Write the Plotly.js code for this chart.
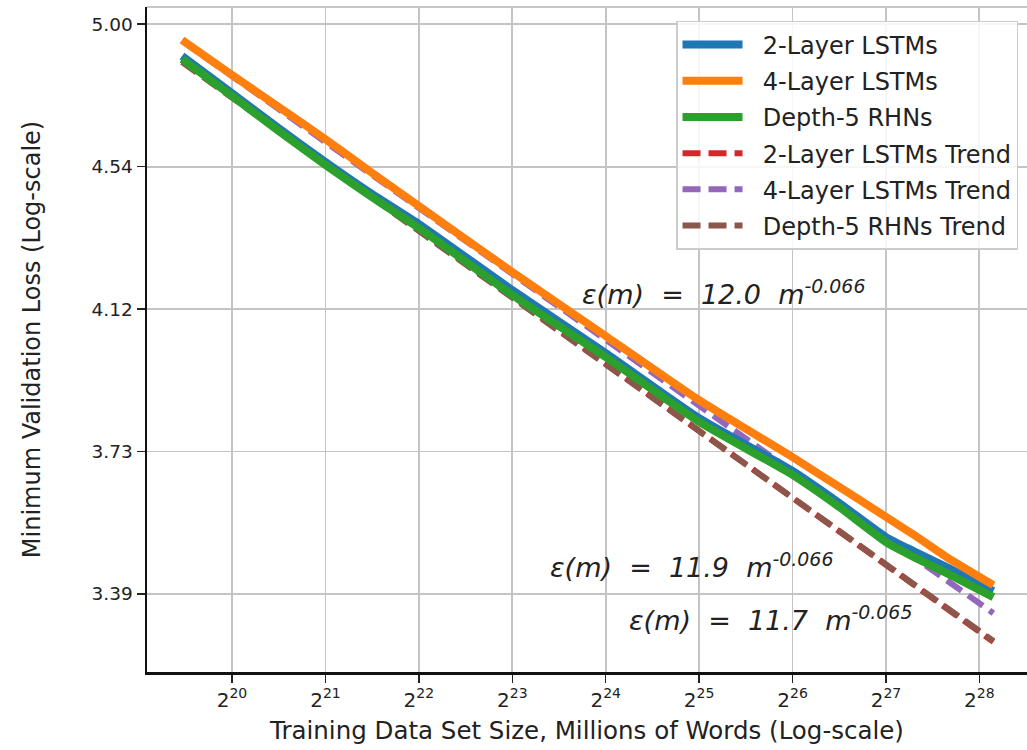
<!DOCTYPE html>
<html>
<head>
<meta charset="utf-8">
<script src="https://cdn.plot.ly/plotly-3.0.1.min.js"></script>
<style>html,body{margin:0;padding:0;background:#fff;}#chart{width:1027px;height:750px;}</style>
</head>
<body>
<div id="chart"></div>
<script>
// Training data set size (words)
const xData = [723680, 1048576, 1482910, 2097152, 2965821, 4194304, 8388608, 16777216,
               33554432, 67108864, 94906266, 134217728, 165237000, 210617000, 297856000];
// Minimum validation loss
const lstm2 = [4.895, 4.772, 4.659, 4.552, 4.453, 4.363, 4.170, 3.994, 3.820, 3.684, 3.604, 3.521, 3.487, 3.449, 3.393];
const lstm4 = [4.949, 4.832, 4.727, 4.624, 4.518, 4.417, 4.222, 4.041, 3.867, 3.719, 3.644, 3.570, 3.526, 3.473, 3.407];
const rhn5  = [4.885, 4.763, 4.650, 4.543, 4.444, 4.351, 4.156, 3.983, 3.810, 3.674, 3.594, 3.509, 3.473, 3.435, 3.379];
// Trend lines (start and end values)
const trendX = [723680, 297856000];
const lstm2Trend = [4.882, 3.277];
const lstm4Trend = [4.946, 3.342];
const rhn5Trend  = [4.875, 3.279];

const xTickVals = [1048576, 2097152, 4194304, 8388608, 16777216, 33554432, 67108864, 134217728, 268435456];
const xTickText = ['2<sup>20</sup>','2<sup>21</sup>','2<sup>22</sup>','2<sup>23</sup>','2<sup>24</sup>','2<sup>25</sup>','2<sup>26</sup>','2<sup>27</sup>','2<sup>28</sup>'];
const yTickVals = [3.3864, 3.7334, 4.1160, 4.5379, 5.0035];
const yTickText = ['3.39','3.73','4.12','4.54','5.00'];

const seriesNames = ['2-Layer LSTMs','4-Layer LSTMs','Depth-5 RHNs','2-Layer LSTMs Trend','4-Layer LSTMs Trend','Depth-5 RHNs Trend'];
const NB = '\u00a0';
const fits = [
  '<i>ε(m)' + NB + ' =' + NB + NB + '12.0' + NB + ' m<sup>-0.066</sup></i>',
  '<i>ε(m)' + NB + ' =' + NB + NB + '11.9' + NB + ' m<sup>-0.066</sup></i>',
  '<i>ε(m)' + NB + ' =' + NB + NB + '11.7' + NB + ' m<sup>-0.065</sup></i>'
];

const FONT = 'DejaVu Sans, sans-serif';
const dash = {width: 6, dash: '18px,8px'};
const solid = {width: 8, shape: 'spline', smoothing: 0.5};
const lbl = s => NB + NB + s;

const traces = [
  {x: trendX, y: lstm2Trend, name: lbl(seriesNames[3]), legendrank: 4, legendgroup: 'g4', line: Object.assign({color: '#d62728'}, dash)},
  {x: trendX, y: lstm4Trend, name: lbl(seriesNames[4]), legendrank: 5, legendgroup: 'g5', line: Object.assign({color: '#9467bd'}, dash)},
  {x: trendX, y: rhn5Trend,  name: lbl(seriesNames[5]), legendrank: 6, legendgroup: 'g6', line: Object.assign({color: '#8c564b'}, dash)},
  {x: xData, y: lstm2, name: lbl(seriesNames[0]), legendrank: 1, legendgroup: 'g1', line: Object.assign({color: '#1f77b4'}, solid)},
  {x: xData, y: lstm4, name: lbl(seriesNames[1]), legendrank: 2, legendgroup: 'g2', line: Object.assign({color: '#ff7f0e'}, solid)},
  {x: xData, y: rhn5,  name: lbl(seriesNames[2]), legendrank: 3, legendgroup: 'g3', line: Object.assign({color: '#2ca02c'}, solid)}
].map(t => Object.assign({type: 'scatter', mode: 'lines'}, t));

const layout = {
  width: 1027, height: 750,
  margin: {l: 147, r: 0, t: 7, b: 78},
  paper_bgcolor: '#fff', plot_bgcolor: '#fff',
  font: {family: FONT, color: '#222'},
  showlegend: true,
  legend: {
    x: 0.9898, xanchor: 'right', y: 0.979, yanchor: 'top',
    bgcolor: 'rgba(255,255,255,0.85)', bordercolor: '#cccccc', borderwidth: 1.5,
    font: {family: FONT, size: 24, color: '#222'},
    traceorder: 'grouped', tracegroupgap: 2, itemwidth: 60
  },
  xaxis: {
    type: 'log',
    range: [Math.log10(Math.pow(2, 19.09)), Math.log10(Math.pow(2, 28.51))],
    tickmode: 'array', tickvals: xTickVals, ticktext: xTickText,
    tickfont: {family: FONT, size: 20, color: '#222'},
    ticks: 'outside', ticklen: 8, tickwidth: 1.5, tickcolor: '#222',
    showgrid: true, gridcolor: '#c4c4c4', gridwidth: 1.8,
    showline: true, linecolor: '#111', linewidth: 2.5,
    zeroline: false,
    title: {text: 'Training Data Set Size, Millions of Words (Log-scale)', font: {family: FONT, size: 24.5, color: '#222'}, standoff: 12}
  },
  yaxis: {
    type: 'log',
    range: [0.50652, 0.70434],
    tickmode: 'array', tickvals: yTickVals, ticktext: yTickText,
    tickfont: {family: FONT, size: 18.5, color: '#222'},
    ticks: 'outside', ticklen: 8, tickwidth: 1.5, tickcolor: '#222',
    showgrid: true, gridcolor: '#c4c4c4', gridwidth: 1.8,
    showline: true, linecolor: '#111', linewidth: 2.5,
    zeroline: false,
    title: {text: 'Minimum Validation Loss (Log-scale)', font: {family: FONT, size: 24, color: '#222'}, standoff: 44}
  },
  shapes: [
    {type: 'line', xref: 'paper', yref: 'paper', x0: 0, x1: 1, y0: 1, y1: 1, line: {color: '#c8c8c8', width: 2}}
  ],
  annotations: [
    {text: fits[0], xref: 'paper', yref: 'paper', x: 0.492, y: 0.570, xanchor: 'left', yanchor: 'middle', showarrow: false, font: {family: FONT, size: 27, color: '#222'}},
    {text: fits[1], xref: 'paper', yref: 'paper', x: 0.4557, y: 0.1609, xanchor: 'left', yanchor: 'middle', showarrow: false, font: {family: FONT, size: 27, color: '#222'}},
    {text: fits[2], xref: 'paper', yref: 'paper', x: 0.5455, y: 0.0812, xanchor: 'left', yanchor: 'middle', showarrow: false, font: {family: FONT, size: 27, color: '#222'}}
  ]
};

Plotly.newPlot('chart', traces, layout, {displayModeBar: false, staticPlot: true});
</script>
</body>
</html>
